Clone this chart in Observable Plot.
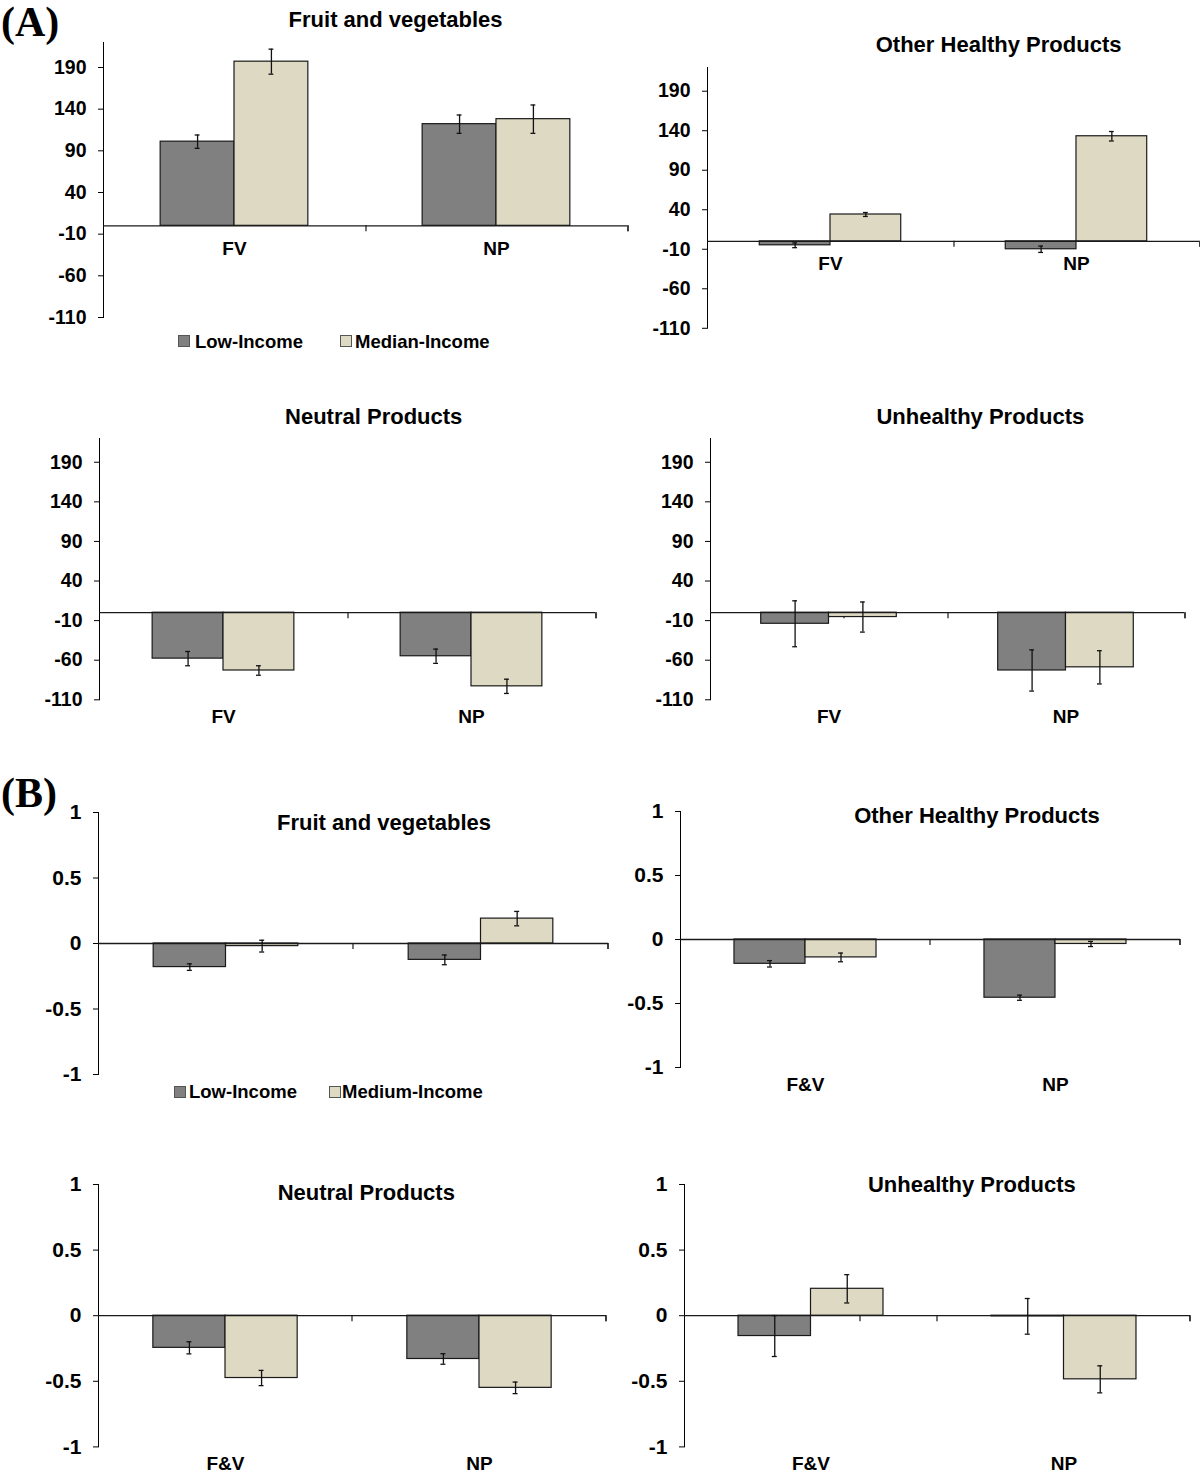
<!DOCTYPE html>
<html><head><meta charset="utf-8">
<script src="https://cdn.jsdelivr.net/npm/d3@7"></script>
<script src="https://cdn.jsdelivr.net/npm/@observablehq/plot@0.6"></script>
<style>
html,body{margin:0;padding:0;background:#fff;}
#fig{position:relative;width:1200px;height:1481px;overflow:hidden;font-family:"Liberation Sans",Arial,sans-serif;color:#000;background:#fff;}
.panel{position:absolute;}
.title{position:absolute;font-weight:bold;font-size:22px;line-height:1;white-space:nowrap;transform:translate(-50%,-50%);}
.tag{position:absolute;font-family:"Liberation Serif","Times New Roman",serif;font-weight:bold;font-size:42px;line-height:1;}
.lgtext{position:absolute;font-weight:bold;font-size:18.5px;line-height:1;white-space:nowrap;transform:translateY(-50%);}
.sw{position:absolute;width:10px;height:10px;border:1.4px solid #555;}
</style></head><body><div id="fig"></div>
<script>
// ---------------- data ----------------
const categoriesA = ["FV", "NP"];
const categoriesB = ["F&V", "NP"];
const panelTitles = ["Fruit and vegetables", "Other Healthy Products", "Neutral Products", "Unhealthy Products"];
const seriesA = ["Low-Income", "Median-Income"];
const seriesB = ["Low-Income", "Medium-Income"];
const seriesColors = ["#808080", "#ddd9c3"];
// (A) values per product group (panelTitles order), each [FV, NP]
const lowIncomeA = [[101, 122], [-5, -10], [-58, -55], [-14, -73]];
const lowIncomeErrA = [[8, 11], [3, 4], [9, 9], [29, 26]];
const medianIncomeA = [[197, 128], [34, 133], [-73, -93], [-5.5, -69]];
const medianIncomeErrA = [[15, 17], [2.5, 6], [6, 9], [19, 21]];
// (B) values per product group, each [F&V, NP]
const lowIncomeB = [[-0.18, -0.125], [-0.19, -0.455], [-0.245, -0.33], [-0.155, -0.005]];
const lowIncomeErrB = [[0.025, 0.037], [0.025, 0.02], [0.046, 0.04], [0.156, 0.136]];
const mediumIncomeB = [[-0.02, 0.19], [-0.14, -0.035], [-0.475, -0.55], [0.205, -0.485]];
const mediumIncomeErrB = [[0.045, 0.055], [0.034, 0.02], [0.058, 0.044], [0.108, 0.103]];
const yTicksA = [-110, -60, -10, 40, 90, 140, 190];
const yDomainA = [-110, 220];
const yTicksB = [-1, -0.5, 0, 0.5, 1];
const yDomainB = [-1, 1];

// ---------------- layout ----------------
const layout = [
  {fig: "A", k: 0, left: 101.6, right: 626.8, top: 41.7, bottom: 316.7, po: 0.774, tx: 395.6, ty: 20, labels: "zero", dy: 23},
  {fig: "A", k: 1, left: 705.8, right: 1199, top: 66.5, bottom: 327.3, po: 0.739, tx: 998.6, ty: 45, labels: "zero", dy: 22.5},
  {fig: "A", k: 2, left: 98, right: 595, top: 438, bottom: 699.3, po: 0.75, tx: 373.7, ty: 416.7, labels: "bottom", dy: 23.7},
  {fig: "A", k: 3, left: 708.8, right: 1184.2, top: 438, bottom: 699.3, po: 0.748, tx: 980.4, ty: 416.7, labels: "bottom", dy: 23.7},
  {fig: "B", k: 0, left: 97.7, right: 607.7, top: 812.3, bottom: 1074.3, po: 0.763, tx: 384, ty: 822.7, labels: null},
  {fig: "B", k: 1, left: 680.3, right: 1180.5, top: 810.7, bottom: 1066.7, po: 0.76, tx: 977, ty: 816, labels: "bottom", dy: 23.3},
  {fig: "B", k: 2, left: 97.7, right: 606.2, top: 1184.3, bottom: 1446.7, po: 0.76, tx: 366.3, ty: 1193.3, labels: "bottom", dy: 23.3},
  {fig: "B", k: 3, left: 683.6, right: 1189.7, top: 1184.3, bottom: 1446.7, po: 0.745, tx: 971.8, ty: 1185, labels: "bottom", dy: 23.3}
];
const legends = [
  {series: seriesA, y: 341.5, items: [{sq: 178, tx: 195}, {sq: 340, tx: 355}]},
  {series: seriesB, y: 1092.3, items: [{sq: 174, tx: 189}, {sq: 329, tx: 342}]}
];
const tags = [{text: "(A)", left: 1, top: 1}, {text: "(B)", left: 1, top: 772}];

const ML = 75, MR = 3, MT = 4, MB = 38;
const fig = document.getElementById("fig");

function buildRows(cats, series, v0, e0, v1, e1) {
  const out = [];
  cats.forEach((c, i) => {
    out.push({cat: c, series: series[0], value: v0[i], err: e0[i]});
    out.push({cat: c, series: series[1], value: v1[i], err: e1[i]});
  });
  return out;
}

function separatorTicks(cats) {
  return function (index, scales) {
    const ns = "http://www.w3.org/2000/svg";
    const g = document.createElementNS(ns, "g");
    const fx = scales.fx, y = scales.y;
    if (!fx || !y) return g;
    const y0 = y(0);
    for (const c of cats) {
      const xr = fx(c) + fx.bandwidth();
      const line = document.createElementNS(ns, "line");
      line.setAttribute("x1", xr); line.setAttribute("x2", xr);
      line.setAttribute("y1", y0); line.setAttribute("y2", y0 + 6);
      line.setAttribute("stroke", "#1a1a1a");
      line.setAttribute("stroke-width", 1.2);
      g.appendChild(line);
    }
    return g;
  };
}

for (const L of layout) {
  const isA = L.fig === "A";
  const cats = isA ? categoriesA : categoriesB;
  const series = isA ? seriesA : seriesB;
  const data = isA
    ? buildRows(cats, series, lowIncomeA[L.k], lowIncomeErrA[L.k], medianIncomeA[L.k], medianIncomeErrA[L.k])
    : buildRows(cats, series, lowIncomeB[L.k], lowIncomeErrB[L.k], mediumIncomeB[L.k], mediumIncomeErrB[L.k]);
  const W = L.right - L.left + ML + MR;
  const H = L.bottom - L.top + MT + MB;
  const bw = (L.right - L.left) / 2 / (2 * (1 + L.po));
  const cap = Math.max(0, (bw - 5) / 2);
  const marks = [
    Plot.barY(data, {fx: "cat", x: "series", y: "value", fill: "series", stroke: "#1a1a1a", strokeWidth: 1.2}),
    Plot.ruleY([0], {stroke: "#1a1a1a", strokeWidth: 1.3}),
    Plot.ruleX(data, {fx: "cat", x: "series", y1: d => d.value - d.err, y2: d => d.value + d.err, stroke: "#111", strokeWidth: 1.3}),
    Plot.tickY(data, {fx: "cat", x: "series", y: d => d.value + d.err, insetLeft: cap, insetRight: cap, stroke: "#111", strokeWidth: 1.3}),
    Plot.tickY(data, {fx: "cat", x: "series", y: d => d.value - d.err, insetLeft: cap, insetRight: cap, stroke: "#111", strokeWidth: 1.3}),
    separatorTicks(cats)
  ];
  if (L.labels === "zero") {
    marks.push(Plot.text(cats, {fx: d => d, y: () => 0, dy: L.dy, text: d => d, fontSize: 19, fontWeight: "bold"}));
  } else if (L.labels === "bottom") {
    marks.push(Plot.text(cats, {fx: d => d, frameAnchor: "bottom", dy: L.dy, text: d => d, fontSize: 19, fontWeight: "bold"}));
  }
  const svg = Plot.plot({
    width: W, height: H,
    marginLeft: ML, marginRight: MR, marginTop: MT, marginBottom: MB,
    fx: {domain: cats, padding: 0, axis: null, label: null},
    x: {domain: series, paddingInner: 0, paddingOuter: L.po, axis: null, round: false},
    y: {domain: isA ? yDomainA : yDomainB, ticks: isA ? yTicksA : yTicksB, tickFormat: d => String(d),
        tickSize: 5, tickPadding: 12, line: true, label: null},
    color: {domain: series, range: seriesColors},
    style: {fontFamily: "'Liberation Sans', Arial, sans-serif", fontSize: isA ? "19.5px" : "21px", fontWeight: "bold",
            color: "#000", background: "transparent", overflow: "visible"},
    marks
  });
  svg.classList.add("panel");
  svg.style.position = "absolute";
  svg.style.left = (L.left - ML) + "px";
  svg.style.top = (L.top - MT) + "px";
  fig.appendChild(svg);

  const t = document.createElement("div");
  t.className = "title";
  t.textContent = panelTitles[L.k];
  t.style.left = L.tx + "px";
  t.style.top = L.ty + "px";
  fig.appendChild(t);
}

for (const lg of legends) {
  lg.items.forEach((it, i) => {
    const sq = document.createElement("div");
    sq.className = "sw";
    sq.style.background = seriesColors[i];
    sq.style.left = it.sq + "px";
    sq.style.top = (lg.y - 6.4) + "px";
    fig.appendChild(sq);
    const tx = document.createElement("div");
    tx.className = "lgtext";
    tx.textContent = lg.series[i];
    tx.style.left = it.tx + "px";
    tx.style.top = lg.y + "px";
    fig.appendChild(tx);
  });
}

for (const tg of tags) {
  const d = document.createElement("div");
  d.className = "tag";
  d.textContent = tg.text;
  d.style.left = tg.left + "px";
  d.style.top = tg.top + "px";
  fig.appendChild(d);
}
</script></body></html>
